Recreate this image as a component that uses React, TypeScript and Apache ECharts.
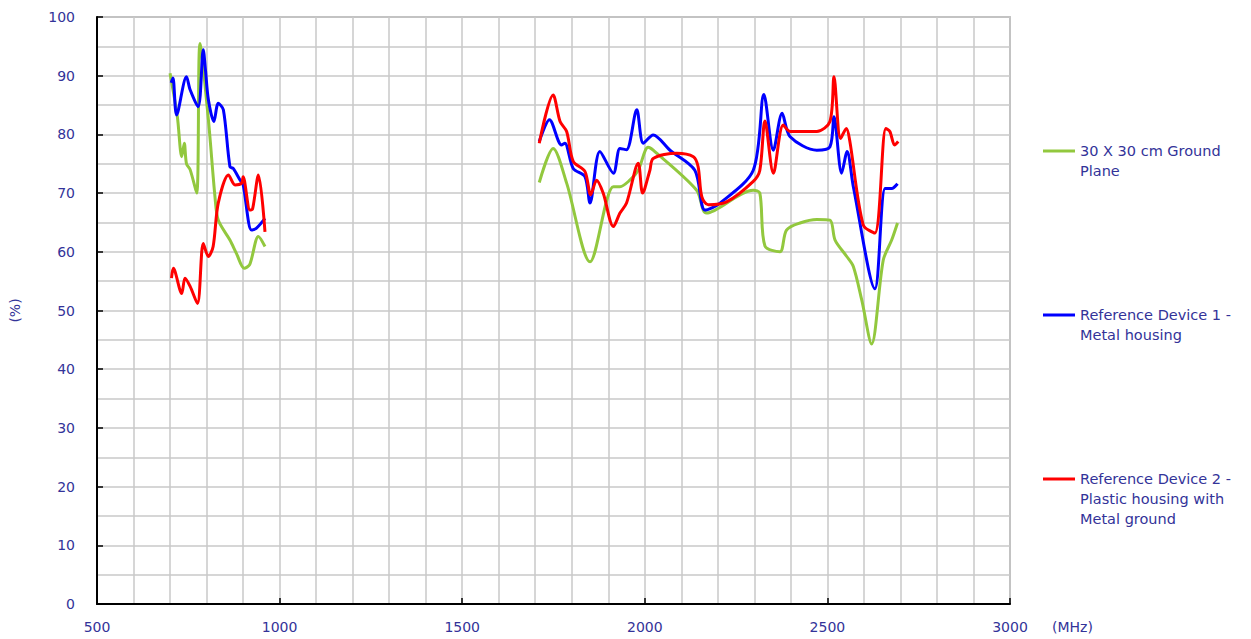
import React, { useEffect, useRef } from "react";
import * as echarts from "echarts";

const seriesNames = [
  "30 X 30 cm Ground Plane",
  "Reference Device 1 - Metal housing",
  "Reference Device 2 - Plastic housing with Metal ground",
];
const legendLabels = [
  "30 X 30 cm Ground\nPlane",
  "Reference Device 1 -\nMetal housing",
  "Reference Device 2 -\nPlastic housing with\nMetal ground",
];
const seriesColors = ["#92c83e", "#0000ff", "#ff0000"];

// frequency (MHz), efficiency (%) ; null marks the gap between bands
const groundFreq = [700, 720, 732, 739, 745, 755, 773, 782, 805, 823, 832, 864, 882, 903, 918, 942, 960, 1300,
  1711, 1749, 1786, 1850, 1914, 1932, 1959, 1982, 2009, 2023, 2142, 2169, 2297, 2315, 2329, 2370, 2388, 2425,
  2471, 2507, 2521, 2553, 2571, 2594, 2621, 2653, 2676, 2692];
const groundVal = [90.4, 83.0, 76.2, 78.5, 75, 74, 70, 95.5, 82.5, 69.4, 65.4, 62, 59.7, 57.2, 57.8, 62.6, 60.9, null,
  71.8, 77.6, 71.7, 58.3, 71.1, 71.1, 72.2, 73.9, 77.8, 77.3, 70.5, 66.6, 70.5, 70, 61, 60, 63.7, 64.9,
  65.5, 65.4, 62, 59.2, 57.5, 51.8, 44.3, 58.6, 62, 64.9];

const dev1Freq = [703, 708, 718, 745, 755, 777, 791, 797, 805, 820, 832, 846, 864, 873, 892, 900, 923, 936, 960, 1300,
  1711, 1739, 1772, 1781, 1804, 1836, 1850, 1877, 1914, 1932, 1950, 1978, 1996, 2023, 2069, 2137, 2165, 2206,
  2297, 2326, 2352, 2376, 2398, 2471, 2507, 2518, 2539, 2554, 2571, 2630, 2658, 2676, 2692];
const dev1Val = [88.8, 89.6, 83.3, 89.8, 87.6, 84.7, 94.4, 91, 85.9, 82.2, 85.3, 84.2, 74.5, 74.2, 72.2, 71.5, 63.7, 64, 65.7, null,
  78.8, 82.5, 78.2, 78.5, 74.2, 72.8, 68.3, 77.1, 73.4, 77.6, 77.4, 84.2, 78.5, 79.9, 77.3, 73.9, 67.1, 68.3,
  73.9, 86.8, 77.3, 83.6, 79.6, 77.3, 77.9, 83, 73.4, 77.1, 71.1, 53.7, 70.8, 70.8, 71.6];

const dev2Freq = [704, 709, 732, 741, 755, 775, 791, 805, 818, 832, 860, 878, 896, 900, 919, 926, 942, 960, 1300,
  1711, 1749, 1768, 1786, 1804, 1836, 1852, 1868, 1886, 1914, 1932, 1950, 1982, 1994, 2014, 2023, 2087, 2133,
  2146, 2156, 2174, 2224, 2297, 2315, 2329, 2352, 2379, 2398, 2471, 2507, 2518, 2536, 2552, 2561, 2598, 2630,
  2660, 2671, 2684, 2694];
const dev2Val = [55.5, 57.2, 52.9, 55.5, 54.1, 51.2, 61.4, 59.2, 60.9, 68.3, 73.1, 71.4, 71.7, 72.8, 67.1, 67.3, 73.1, 63.4, null,
  78.5, 86.7, 82.2, 80.5, 75.4, 73.7, 69.7, 72.2, 70, 64.3, 66.6, 68.3, 75.1, 70, 73.9, 75.9, 76.8, 76.2,
  74.5, 69.4, 68, 68.5, 72, 73.9, 82.3, 73.4, 81.6, 80.5, 80.5, 82.2, 89.8, 79.3, 81, 79, 64.6, 63.2,
  81, 80.5, 78.2, 78.8];

const xTickLabels = [500, 1000, 1500, 2000, 2500, 3000];
const yTickLabels = [0, 10, 20, 30, 40, 50, 60, 70, 80, 90, 100];

const labelColor = "#333399";
const font = "DejaVu Sans";

function pairs(xs: number[], ys: (number | null)[]) {
  return xs.map((x, i) => [x, ys[i] === null ? "-" : ys[i]]);
}

export default function App() {
  const ref = useRef<HTMLDivElement>(null);
  useEffect(() => {
    if (!ref.current) return;
    const chart = echarts.init(ref.current, null, { renderer: "svg" });
    const data = [pairs(groundFreq, groundVal), pairs(dev1Freq, dev1Val), pairs(dev2Freq, dev2Val)];
    const legendTops = [151, 315, 479];
    const graphics: any[] = [];
    legendTops.forEach((y, i) => {
      graphics.push({
        type: "line",
        shape: { x1: 1043, y1: y, x2: 1075, y2: y },
        style: { stroke: seriesColors[i], lineWidth: 3 },
      });
      graphics.push({
        type: "text",
        x: 1080,
        y: y - 10,
        style: {
          text: legendLabels[i],
          fill: labelColor,
          font: `14.5px "${font}"`,
          lineHeight: 20,
          textVerticalAlign: "top",
        },
      });
    });
    chart.setOption({
      animation: false,
      backgroundColor: "#ffffff",
      grid: {
        left: 97,
        right: 241,
        top: 17,
        bottom: 35,
        show: true,
        borderColor: "#9a9a9a",
        borderWidth: 1.5,
        containLabel: false,
      },
      xAxis: {
        type: "value",
        min: 500,
        max: 3000,
        interval: 500,
        name: "(MHz)",
        nameLocation: "end",
        nameGap: 42,
        nameTextStyle: {
          color: labelColor,
          fontFamily: font,
          fontSize: 14,
          align: "left",
          verticalAlign: "top",
          padding: [16, 0, 0, 0],
        },
        axisLine: { show: true, lineStyle: { color: "#000", width: 2 } },
        axisTick: { show: true, inside: true, length: 6, lineStyle: { color: "#000", width: 1.5 } },
        axisLabel: {
          color: labelColor,
          fontFamily: font,
          fontSize: 14,
          margin: 16,
          formatter: (v: number) => (xTickLabels.includes(v) ? String(v) : ""),
        },
        splitLine: { show: true, lineStyle: { color: "#c8c8c8", width: 1.5 } },
        minorTick: { show: false, splitNumber: 5 },
        minorSplitLine: { show: true, lineStyle: { color: "#c8c8c8", width: 1.5 } },
      },
      yAxis: {
        type: "value",
        min: 0,
        max: 100,
        interval: 10,
        name: "(%)",
        nameLocation: "middle",
        nameGap: 75,
        nameTextStyle: { color: labelColor, fontFamily: font, fontSize: 14 },
        axisLine: { show: true, lineStyle: { color: "#000", width: 2 } },
        axisTick: { show: true, inside: true, length: 6, lineStyle: { color: "#000", width: 1.5 } },
        axisLabel: {
          color: labelColor,
          fontFamily: font,
          fontSize: 14,
          margin: 22,
          formatter: (v: number) => (yTickLabels.includes(v) ? String(v) : ""),
        },
        splitLine: { show: true, lineStyle: { color: "#c8c8c8", width: 1.5 } },
        minorTick: { show: false, splitNumber: 2 },
        minorSplitLine: { show: true, lineStyle: { color: "#c8c8c8", width: 1.5 } },
      },
      series: seriesNames.map((name, i) => ({
        name,
        type: "line",
        data: data[i],
        smooth: 0.3,
        showSymbol: false,
        connectNulls: false,
        lineStyle: { color: seriesColors[i], width: 3 },
        itemStyle: { color: seriesColors[i] },
        z: 3 + i,
      })),
      graphic: graphics,
    });
    return () => chart.dispose();
  }, []);
  return (
    <div
      ref={ref}
      style={{ position: "fixed", left: 0, top: 0, width: 1251, height: 639, background: "#fff" }}
    />
  );
}
